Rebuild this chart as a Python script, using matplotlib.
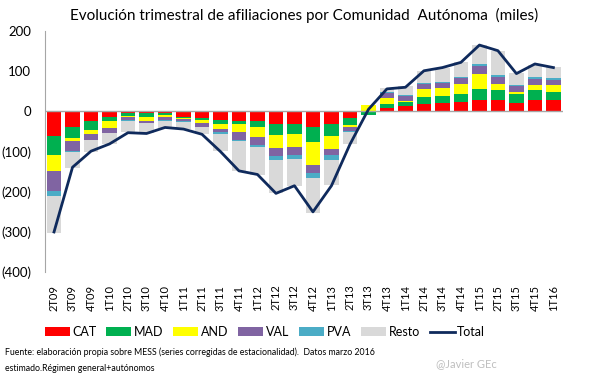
import matplotlib.pyplot as plt
import numpy as np

plt.rcParams['font.family'] = ['Lato', 'DejaVu Sans']

quarters = ['2T09', '3T09', '4T09', '1T10', '2T10', '3T10', '4T10', '1T11', '2T11', '3T11',
            '4T11', '1T12', '2T12', '3T12', '4T12', '1T13', '2T13', '3T13', '4T13', '1T14',
            '2T14', '3T14', '4T14', '1T15', '2T15', '3T15', '4T15', '1T16']

# miles de afiliados, variacion trimestral
cat = [-60, -38, -25, -13, -5, -3, -3, -14, -17, -21, -24, -24, -32, -32, -40, -32, -17, 0,
       8, 13, 18, 21, 24, 28, 28, 21, 28, 28]
mad = [-48, -29, -21, -11, -6, -10, -5, -3, -5, -10, -8, -16, -27, -25, -36, -28, -17, -8,
       10, 11, 17, 17, 20, 27, 25, 23, 25, 21]
andal = [-41, -7, -10, -18, -2, -10, -6, -1, -7, -13, -20, -24, -33, -31, -57, -34, -6, 15,
         15, 3, 21, 21, 25, 39, 16, 5, 12, 16]
val = [-48, -24, -14, -11, -8, -6, -8, -7, -10, -8, -19, -20, -20, -20, -20, -15, -9, 0,
       13, 11, 13, 12, 14, 19, 17, 13, 16, 13]
pva = [-13, -3, -2, -2, -2, -1, -1, -2, -1, -4, -3, -5, -10, -10, -13, -11, -3, -2,
       2, 2, 1, 3, 3, 6, 5, 3, 5, 5]
resto = [-92, -39, -29, -27, -29, -23, -19, -17, -16, -43, -74, -69, -80, -67, -86, -63, -28, 0,
         10, 22, 31, 34, 36, 45, 60, 30, 30, 27]
total = [-300, -139, -99, -81, -53, -55, -40, -44, -57, -100, -148, -157, -204, -185, -250, -185,
         -82, 5, 56, 60, 101, 109, 122, 165, 151, 94, 118, 109]

series = [('CAT', cat, '#FF0000'), ('MAD', mad, '#00B050'), ('AND', andal, '#FFFF00'),
          ('VAL', val, '#8064A2'), ('PVA', pva, '#4BACC6'), ('Resto', resto, '#D9D9D9')]

fig = plt.figure(figsize=(6.05, 3.78), dpi=100)
ax = fig.add_axes([0.074, 0.28, 0.856, 0.638])

x = np.arange(len(quarters))
pos = np.zeros(len(x))
neg = np.zeros(len(x))
handles = []
for name, vals, col in series:
    v = np.array(vals, dtype=float)
    p = np.where(v > 0, v, 0)
    n = np.where(v < 0, v, 0)
    b = ax.bar(x, p, 0.78, bottom=pos, color=col, label=name, linewidth=0)
    ax.bar(x, n, 0.78, bottom=neg, color=col, linewidth=0)
    handles.append(b)
    pos += p
    neg += n

ln, = ax.plot(x, total, color='#0F2A5C', linewidth=2, label='Total')
handles.append(ln)
ax.axhline(0, color='#A6A6A6', linewidth=1, zorder=1)

ax.set_xlim(-0.5, len(x) - 0.5)
ax.set_ylim(-400, 200)
ax.set_yticks(range(-400, 201, 100))
ax.set_yticklabels([f'({abs(t)})' if t < 0 else str(t) for t in range(-400, 201, 100)],
                   fontsize=9.5)
ax.set_xticks(x)
ax.set_xticklabels(quarters, rotation=90, fontsize=8)
ax.tick_params(axis='x', length=0, pad=9)
ax.tick_params(axis='y', length=0, pad=10)
for s in ['top', 'right', 'bottom']:
    ax.spines[s].set_visible(False)
ax.spines['left'].set_color('#A6A6A6')

ax.set_title('Evolución trimestral de afiliaciones por Comunidad  Autónoma  (miles)',
             fontsize=11, pad=8)

fig.legend(handles, [h.get_label() for h in handles], loc='center', bbox_to_anchor=(0.438, 0.122),
           ncol=7, frameon=False, fontsize=9, handlelength=2.0, handleheight=0.7,
           columnspacing=0.8, handletextpad=0.2)

fig.text(0.008, 0.06, 'Fuente: elaboración propia sobre MESS (series corregidas de estacionalidad).  Datos marzo 2016',
         fontsize=6.3)
fig.text(0.008, 0.018, 'estimado.Régimen general+autónomos', fontsize=6.3)
fig.text(0.72, 0.03, '@Javier GEc', fontsize=8, color='#BFBFBF')

fig.savefig('out.png', dpi=100)
